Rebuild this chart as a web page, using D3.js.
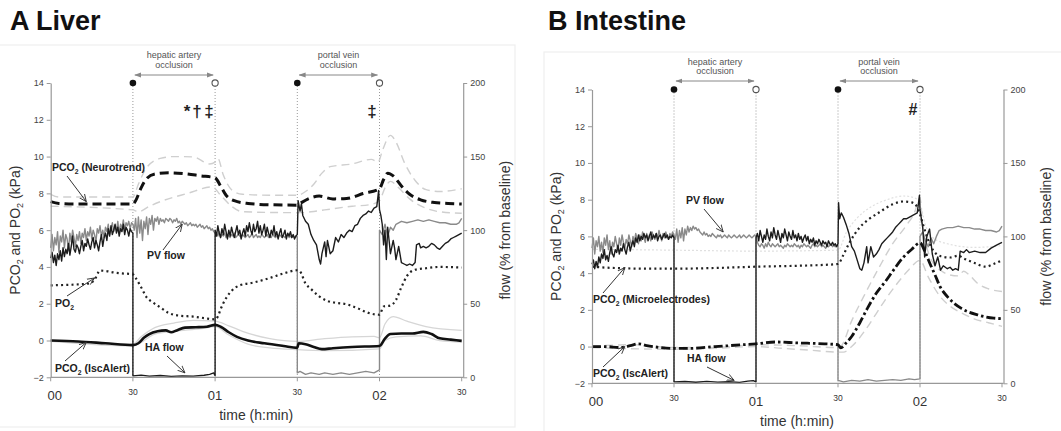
<!DOCTYPE html>
<html><head><meta charset="utf-8">
<script src="https://cdn.jsdelivr.net/npm/d3@7"></script>
<style>
body{margin:0;background:#fff;}
svg{display:block;font-family:"Liberation Sans",Arial,Helvetica,sans-serif;}
</style></head><body>
<svg id="c" width="1061" height="431"></svg>
<script>
// ---------- shared ticks ----------
const timeTicks = [0, 30, 60, 90, 120, 150];
const timeLabels = ["00", "30", "01", "30", "02", "30"];
const kpaTicks = [-2, 0, 2, 4, 6, 8, 10, 12, 14];
const flowTicks = [0, 50, 100, 150, 200];
const occlusions = [
  {start: 30, end: 60, lines: ["hepatic artery", "occlusion"]},
  {start: 90, end: 120, lines: ["portal vein", "occlusion"]}
];
// readings every half minute, starting at t0
const seqH = (t0, vals) => vals.map((v, i) => [t0 + i * 0.5, v]);

// ---------- A Liver (time min, kPa or % flow) ----------
const liverNeuroMean = [[0,7.55],[3,7.45],[10,7.42],[20,7.42],[30,7.42],[31,7.6],[33,8.3],[35,8.8],[38,9.05],[43,9.12],[50,9.05],[55,8.95],[59,8.88],[60,8.85],[62,8.4],[64,7.9],[67,7.6],[72,7.45],[80,7.38],[90,7.36],[91,7.45],[94,7.7],[98,7.85],[103,7.7],[108,7.72],[114,7.99],[120,8.25],[121.5,8.75],[123,9.1],[125,8.95],[128,8.4],[131,7.95],[135,7.65],[140,7.5],[145,7.45],[150,7.42]];
const liverNeuroUpper = [[0,7.95],[3,7.8],[30,7.8],[32,8.5],[35,9.4],[40,9.9],[45,10.0],[52,9.98],[58,9.6],[60,9.7],[61,9.9],[63,9.0],[66,8.2],[70,7.95],[80,7.9],[90,7.9],[93,8.1],[96,8.5],[99,9.1],[102,9.45],[110,9.6],[117,9.85],[119.5,9.7],[121,10.3],[124,11.15],[126,10.8],[129,9.7],[133,8.7],[137,8.2],[142,8.1],[150,8.25]];
const liverNeuroLower = [[0,7.3],[30,7.1],[32,7.0],[36,7.3],[40,7.55],[50,8.0],[59,8.35],[62,7.9],[66,7.3],[70,7.0],[90,6.95],[95,7.0],[100,7.1],[110,7.3],[117,7.4],[120,7.6],[122,8.3],[124,8.65],[127,8.3],[131,7.7],[136,7.25],[142,7.0],[150,6.92]];
const liverPO2 = [[0,3.0],[5,3.02],[10,3.05],[14,3.1],[16,3.3],[18,3.8],[20,3.78],[23,3.7],[26,3.65],[30,3.6],[31,3.4],[33,2.9],[35,2.35],[37,2.1],[40,1.8],[43,1.5],[47,1.35],[52,1.3],[56,1.22],[60,1.15],[61,1.3],[62,1.7],[64,2.3],[66,2.7],[69,3.0],[74,3.15],[80,3.4],[85,3.65],[90,3.82],[91,3.75],[93,3.1],[95,2.8],[98,2.4],[101,2.15],[104,2.05],[108,1.97],[112,1.75],[116,1.5],[120,1.4],[121.5,1.85],[124,1.9],[126,2.2],[128,2.9],[130,3.5],[133,3.85],[137,3.93],[142,4.0],[150,3.97]];
const liverIscMean = [[0,0],[10,-0.05],[20,-0.15],[30,-0.25],[32,-0.15],[34,0.15],[36,0.35],[39,0.5],[42,0.55],[44,0.45],[46,0.55],[49,0.7],[53,0.72],[57,0.75],[60,0.85],[62,0.75],[65,0.45],[68,0.2],[72,0.0],[78,-0.15],[85,-0.3],[90,-0.4],[90.5,-0.15],[93,-0.2],[96,-0.35],[99,-0.47],[103,-0.42],[110,-0.35],[120,-0.3],[122,0.1],[124,0.35],[128,0.38],[132,0.38],[136,0.47],[139,0.35],[142,0.12],[146,0.05],[150,-0.02]];
const liverIscUpper = [[0,0.02],[30,-0.2],[33,0.2],[38,0.7],[45,0.95],[52,1.1],[60,1.05],[65,0.8],[70,0.5],[80,0.1],[90,-0.05],[100,0.1],[110,0.2],[118,0.22],[120,0.15],[122,0.9],[125,1.3],[130,1.05],[137,0.75],[150,0.55]];
const liverIscLower = [[0,-0.05],[30,-0.3],[33,-0.1],[38,0.35],[45,0.5],[55,0.65],[60,0.75],[65,0.3],[72,-0.2],[80,-0.4],[90,-0.5],[100,-0.55],[120,-0.45],[122,0.0],[126,0.2],[135,0.25],[142,0.0],[150,-0.08]];
const liverHAflow = [
  ...seqH(0, [81,85,78,83,76,84,80,86,79,88,82,87,84,91,83,89,96,87,85,90,88,84,89,93,86,91,89,94,90,87,92,95,88,93,90,86,92,97,89,95,98,93,101,96,103,97,100,104,98,102,96,101,99,104,97,102,100,96,101,99,98]),
  [30,1],[33,1.5],[36,0.8],[40,1.2],[44,0.6],[48,1.0],[52,0.8],[56,1.4],[58,2.0],[59.5,3.0],[60,1.0],
  ...seqH(60, [100,96,103,98,95,101,97,104,99,94,100,96,102,98,95,99,103,97,100,94,98,101,96,103,99,105,100,97,104,99,101,106,98,103,97,100,104,96,102,98,95,100,97,103,96,99,94,98,101,95,97,100,94,98,96,99,95,97,94,96,97]),
  [90.3,120],[91,113],[91.5,118],[92,110],[93,106],[94,104],[95,97],[96,93],[97,90],[98,80],[98.5,77],[99,84],[100,92],[100.5,82],[101,93],[102,84],[103,86],[104,95],[105,92],[106,97],[107,95],[108,98],[109,100],[110,99],[111,103],[112,104],[113,108],[114,110],[115,111],[116,113],[117,112],[118,115],[119,116],[119.7,127],[120,114],
  [120.5,110],[121,104],[121.5,90],[122,100],[122.5,80],[123,102],[124,84],[125,93],[125.5,88],[126,80],[127,89],[128,78],[129,77],[130,76],[131,77],[132,76],[133,78],[133.5,90],[134.5,91],[135,88],[136,89],[137,88],[138,89],[139,91],[140,90],[141,88],[142,87],[143,89],[144,91],[145,92],[146,94],[147,95],[148,96],[149,97],[150,98]
];
const liverPVflow = [
  ...seqH(0, [88,97,86,95,90,99,85,96,92,100,88,97,94,86,98,92,100,95,89,97,93,99,91,98,95,101,93,99,96,102,94,100,97,92,101,98,103,96,100,95,102,99,104,97,101,105,99,103,100,106,98,104,101,107,100,105,103,106,101,105,104]),
  ...seqH(30.5, [100,108,95,109,98,107,93,106,101,109,97,108,104,110,100,108,106,109,104,108,106,107,105,108,107,106,108,107,105,107,106,108,105,106,104,106,105,104,105,103,104,105,103,104,103,104,102,103,104,102,103,101,102,103,101,102,100,101,99,98]),
  ...seqH(60.5, [98,96,99,95,97,96,98,95,97,96,95,97,96,98,95,96,97,96,95,97,96,95,96,97,95,96,98,95,96,97,95,96,95,97,96,95,96,97,95,96,95,97,96,95,96,95,97,96,95,96,95,96,97,95,96,95,96,95,96,95]),
  [90,3],[91,4],[93,2],[95,3],[98,2],[100,3],[103,2],[106,3],[109,2],[112,3],[115,4],[118,3],[120,5],
  [120,100],[121,97],[122,104],[123,96],[124,102],[125,100],[126,104],[127,105],[128,106],[130,105],[132,106],[134,107],[136,106],[138,107],[140,106],[142,105],[144,105],[146,104],[148,104],[149,105],[150,108]
];

// ---------- B Intestine ----------
const intMicro = [[0,4.35],[5,4.3],[10,4.27],[20,4.24],[30,4.24],[45,4.28],[60,4.35],[75,4.4],[85,4.45],[90,4.5],[92,5.0],[94,5.6],[96,6.1],[98,6.5],[101,6.9],[105,7.3],[110,7.75],[114,7.9],[117,7.85],[119,7.6],[120,7.2],[121,6.7],[123,5.8],[125,5.2],[128,4.9],[131,4.85],[134,4.95],[136,4.8],[140,4.55],[144,4.35],[147,4.5],[150,4.7]];
const intMicroUpper = [[0,5.3],[30,5.25],[60,5.2],[90,5.25],[93,6.2],[97,7.0],[102,7.6],[108,8.0],[114,8.2],[118,8.1],[120,7.8],[122,6.6],[125,5.9],[130,5.6],[140,5.4],[150,5.5]];
const intIscMean = [[0,0],[5,0],[10,-0.05],[14,0.05],[17,0.15],[20,0.05],[25,-0.05],[30,-0.1],[35,-0.1],[45,0.0],[55,0.1],[60,0.15],[67,0.25],[75,0.2],[85,0.15],[90,0.1],[91,-0.07],[93,0.2],[95,0.55],[98,1.3],[101,2.15],[104,2.9],[107.6,3.6],[110,4.1],[113.8,4.85],[117,5.3],[120,5.65],[122,5.1],[123.7,4.5],[125.5,3.9],[127.4,3.25],[130,2.72],[135,2.09],[141,1.73],[147,1.55],[150,1.52]];
const intIscUpper = [[0,0.02],[15,0.1],[30,-0.05],[45,-0.05],[60,0.1],[75,0.05],[90,-0.05],[91,0.0],[95,1.4],[100,2.9],[105,4.3],[110,5.6],[115,6.6],[118,7.3],[120,8.1],[121,6.5],[122.5,5.4],[125,4.5],[128,4.1],[131,3.9],[134,3.85],[136,4.1],[138,3.9],[141,3.45],[145,3.15],[150,3.0]];
const intIscLower = [[0,-0.05],[30,-0.15],[45,-0.1],[60,0.0],[70,-0.1],[80,-0.2],[90,-0.3],[92,-0.3],[95,0.0],[100,0.9],[104,1.8],[108,2.7],[112,3.5],[116,4.2],[120,4.7],[123,3.8],[127,2.8],[131,2.2],[135,1.85],[140,1.5],[145,1.3],[150,1.1]];
const intHAflow = [
  ...seqH(0, [81,84,78,83,79,86,82,88,85,91,84,87,83,89,93,88,86,91,89,94,88,92,90,95,91,88,93,96,90,94,97,93,99,96,101,97,100,98,102,99,101,97,100,103,98,101,99,102,97,100,101,98,100,102,99,101,98,100,99,101,99]),
  [30,1],[34,1.2],[38,0.7],[42,1.3],[46,0.8],[50,1.1],[54,0.6],[57,1.5],[59,1.8],[60,1],
  ...seqH(60, [99,102,97,104,100,96,101,98,105,100,97,103,99,106,101,98,104,100,96,102,99,105,101,97,103,100,98,104,99,101,97,102,98,100,96,99,101,97,100,95,98,96,99,94,97,95,98,96,94,97,95,96,93,97,95,94,96,94,95,93,95]),
  [90.2,123],[90.6,112],[91.2,116],[92,113],[93,108],[94,102],[95,93],[96,90],[97,84],[98,78],[98.7,77],[99.5,82],[100.5,93],[101,82],[102,93],[103,86],[104,88],[105,91],[106,95],[107,97],[108,99],[109,101],[110,103],[111,106],[112,108],[113,110],[114,112],[115,112],[116,113],[117,114],[118,115],[119,116],[119.8,128],[120,118],
  [121,106],[121.7,86],[122.5,100],[123.5,105],[124.5,88],[125.5,80],[126.5,86],[127.5,77],[128.5,80],[130,78],[131,79],[132,77],[133,78],[134,77],[134.7,90],[136,89],[137,91],[138,89],[140,90],[142,89],[144,89],[146,92],[148,94],[150,96]
];
const intPVflow = [
  ...seqH(0, [92,99,88,97,93,100,90,96,89,99,94,101,91,97,88,96,93,100,95,90,99,94,101,96,92,98,95,101,97,93,100,96,102,98,95,101,97,103,99,96,102,98,101,97,103,100,98,102,99,104,100,97,102,99,103,100,98,102,100,103,101]),
  ...seqH(30.5, [98,105,96,104,99,106,97,105,101,107,103,106,104,107,105,106,104,105,103,102,101,103,101,102,100,101,100,102,101,100,99,101,100,101,99,100,101,100,99,101,100,99,100,101,100,99,100,101,99,100,101,100,99,100,101,100,99,100,101,100]),
  ...seqH(60.5, [96,94,93,95,94,92,95,93,96,94,93,95,94,93,94,95,93,94,93,92,94,93,95,94,93,94,93,95,94,93,94,92,94,93,95,94,93,94,93,92,94,95,93,94,93,94,95,93,94,93,92,94,93,94,95,93,94,93,94,94]),
  [90,2],[92,1],[95,2],[98,1.5],[101,2.5],[104,1.5],[107,2],[110,2.5],[113,2],[116,3],[118,2.5],[120,3],
  [120,100],[121,103],[122,97],[123,93],[124,99],[125,95],[126,100],[127,104],[128,105],[130,106],[132,106],[134,107],[136,106],[138,106],[140,105],[142,105],[144,104],[146,104],[148,103],[149,104],[150,107]
];

// ---------- drawing ----------
const svg = d3.select("#c");
const defs = svg.append("defs");
defs.append("marker").attr("id","ah").attr("viewBox","0 -5 10 10").attr("refX",9).attr("refY",0)
  .attr("markerUnits","userSpaceOnUse").attr("markerWidth",8).attr("markerHeight",8).attr("orient","auto")
  .append("path").attr("d","M0,-4L9,0L0,4").attr("fill","none").attr("stroke","#333").attr("stroke-width",1.1);
defs.append("marker").attr("id","oh").attr("viewBox","0 -5 10 10").attr("refX",9).attr("refY",0)
  .attr("markerUnits","userSpaceOnUse").attr("markerWidth",7).attr("markerHeight",7).attr("orient","auto-start-reverse")
  .append("path").attr("d","M0,-3.5L10,0L0,3.5Z").attr("fill","#888");

function subText(g, x, y, parts, size) {
  const t = g.append("text").attr("x", x).attr("y", y).attr("font-size", size).attr("font-weight", "bold").attr("fill", "#222");
  parts.forEach(p => {
    if (p.sub) t.append("tspan").attr("dy", 3).attr("font-size", size * 0.65).text(p.s);
    else t.append("tspan").attr("dy", p.after ? -3 : 0).text(p.s);
  });
  return t;
}
function arrow(g, x1, y1, x2, y2) {
  g.append("line").attr("x1",x1).attr("y1",y1).attr("x2",x2).attr("y2",y2)
    .attr("stroke","#333").attr("stroke-width",1).attr("marker-end","url(#ah)");
}

function drawPanel(cfg) {
  const g = svg.append("g");
  const x = d3.scaleLinear().domain([0,150]).range([cfg.xL, cfg.xR]);
  const y = d3.scaleLinear().domain([-2,14]).range([cfg.yB, cfg.yT]);
  const yr = d3.scaleLinear().domain([0,200]).range([cfg.yB, cfg.yT]);
  const axR = cfg.xR + 1.5;

  g.append("rect").attr("x",cfg.frame[0]).attr("y",cfg.frame[1]).attr("width",cfg.frame[2]).attr("height",cfg.frame[3])
    .attr("fill","none").attr("stroke","#efefef").attr("stroke-width",1.2);

  g.append("text").attr("x",cfg.titleX).attr("y",30).attr("font-size",27).attr("font-weight","bold")
    .attr("fill","#111").text(cfg.title);

  occlusions.forEach(o => {
    [o.start, o.end].forEach(t => {
      g.append("line").attr("x1",x(t)).attr("x2",x(t)).attr("y1",cfg.yT).attr("y2",cfg.yB)
        .attr("stroke","#999").attr("stroke-width",1).attr("stroke-dasharray","1,2");
    });
    g.append("circle").attr("cx",x(o.start)).attr("cy",cfg.yT).attr("r",3.3).attr("fill","#111");
    g.append("circle").attr("cx",x(o.end)).attr("cy",cfg.yT).attr("r",3.1).attr("fill","#fff").attr("stroke","#555").attr("stroke-width",1.1);
    g.append("line").attr("x1",x(o.start)+2).attr("x2",x(o.end)-2).attr("y1",cfg.arrowY).attr("y2",cfg.arrowY)
      .attr("stroke","#888").attr("stroke-width",1).attr("marker-start","url(#oh)").attr("marker-end","url(#oh)");
    o.lines.forEach((s,i) => {
      g.append("text").attr("x",(x(o.start)+x(o.end))/2).attr("y",cfg.textY + i*9.5)
        .attr("text-anchor","middle").attr("font-size",9).attr("fill","#555").text(s);
    });
  });

  const lk = d3.line().x(d => x(d[0])).y(d => y(d[1])).curve(d3.curveMonotoneX);
  const lf = d3.line().x(d => x(d[0])).y(d => yr(d[1]));
  const path = (data, gen, stroke, w, dash) => {
    const p = g.append("path").attr("d", gen(data)).attr("fill","none").attr("stroke",stroke)
      .attr("stroke-width",w).attr("stroke-linejoin","round");
    if (dash) p.attr("stroke-dasharray", dash);
    return p;
  };
  cfg.draw(path, lk, lf);

  const la = g.append("g").attr("transform",`translate(${cfg.xL},0)`)
    .call(d3.axisLeft(y).tickValues(kpaTicks).tickSize(4).tickSizeOuter(0).tickPadding(3));
  const ra = g.append("g").attr("transform",`translate(${axR},0)`)
    .call(d3.axisRight(yr).tickValues(flowTicks).tickSize(4).tickSizeOuter(0).tickPadding(3));
  [la, ra].forEach(a => {
    a.select(".domain").attr("stroke","#999").attr("stroke-width",1.2);
    a.selectAll(".tick line").attr("stroke","#999");
    a.selectAll(".tick text").attr("font-size",9).attr("fill","#444").attr("font-family","Liberation Sans, Arial, sans-serif");
  });
  g.append("line").attr("x1",cfg.xL).attr("x2",axR).attr("y1",cfg.yB).attr("y2",cfg.yB)
    .attr("stroke","#999").attr("stroke-width",1.2);
  timeTicks.forEach((t,i) => {
    g.append("line").attr("x1",x(t)).attr("x2",x(t)).attr("y1",cfg.yB).attr("y2",cfg.yB+4).attr("stroke","#999");
    const big = i % 2 === 0;
    g.append("text").attr("x",x(t)+(i===0?4:0)).attr("y",cfg.yB + (big ? 23 : 18))
      .attr("text-anchor","middle").attr("font-size", big ? 13 : 8.5).attr("fill","#333").text(timeLabels[i]);
  });
  g.append("text").attr("x",(cfg.xL+cfg.xR)/2).attr("y",cfg.yB+43).attr("text-anchor","middle")
    .attr("font-size",14).attr("fill","#333").text("time (h:min)");

  const lt = g.append("text").attr("transform",`translate(${cfg.xL-31},${(cfg.yT+cfg.yB)/2}) rotate(-90)`)
    .attr("text-anchor","middle").attr("font-size",14).attr("fill","#333");
  lt.append("tspan").text("PCO");
  lt.append("tspan").attr("dy",3).attr("font-size",9).text("2");
  lt.append("tspan").attr("dy",-3).text(" and PO");
  lt.append("tspan").attr("dy",3).attr("font-size",9).text("2");
  lt.append("tspan").attr("dy",-3).text(" (kPa)");
  g.append("text").attr("transform",`translate(${axR+47},${(cfg.yT+cfg.yB)/2}) rotate(-90)`)
    .attr("text-anchor","middle").attr("font-size",14).attr("fill","#333").text("flow (% from baseline)");

  cfg.labels(g, x, y, yr);
}

const GRAY_SD = "#cfcfcf";
drawPanel({
  title: "A Liver", titleX: 10, xL: 50.7, xR: 461.7, yT: 83, yB: 377.3,
  arrowY: 75, textY: 58, frame: [-2, 45, 517, 382],
  draw: (path, lk, lf) => {
    path(liverIscUpper, lk, "#d6d6d6", 1.3);
    path(liverIscLower, lk, "#d6d6d6", 1.3);
    path(liverNeuroUpper, lk, GRAY_SD, 1.4, "8,5");
    path(liverNeuroLower, lk, GRAY_SD, 1.4, "8,5");
    path(liverPVflow, lf, "#8a8a8a", 1.4);
    path(liverHAflow, lf, "#1c1c1c", 1.4);
    path(liverNeuroMean, lk, "#111", 3, "9,5");
    path(liverPO2, lk, "#222", 2.2, "2,3.2");
    path(liverIscMean, lk, "#111", 2.6);
  },
  labels: (g, x, y, yr) => {
    subText(g, 52, 171, [{s:"PCO"},{s:"2",sub:true},{s:" (Neurotrend)",after:true}], 10.5);
    arrow(g, 67, 176, x(13), y(7.55));
    subText(g, 147, 259, [{s:"PV flow"}], 10.5);
    arrow(g, 163, 250, x(48), yr(104));
    subText(g, 55, 307, [{s:"PO"},{s:"2",sub:true}], 10.5);
    arrow(g, 67, 296, x(16), y(3.4));
    subText(g, 55, 372, [{s:"PCO"},{s:"2",sub:true},{s:" (IscAlert)",after:true}], 10.5);
    arrow(g, 65, 361, x(13), y(-0.1));
    subText(g, 145, 351, [{s:"HA flow"}], 10.5);
    arrow(g, 167, 356, x(49), yr(3));
    [["*",187],["\u2020",197],["\u2021",209]].forEach(([s,xx]) =>
      g.append("text").attr("x",xx).attr("y",117).attr("text-anchor","middle").attr("font-size",17).attr("font-weight","bold").attr("fill","#222").text(s));
    g.append("text").attr("x",372).attr("y",117).attr("text-anchor","middle").attr("font-size",17).attr("font-weight","bold").attr("fill","#222").text("\u2021");
  }
});

drawPanel({
  title: "B Intestine", titleX: 548, xL: 592, xR: 1002, yT: 89.5, yB: 383.3,
  arrowY: 81, textY: 64.5, frame: [544, 52, 530, 385],
  draw: (path, lk, lf) => {
    path(intMicroUpper, lk, "#e0e0e0", 1.2, "2,2");
    path(intIscUpper, lk, GRAY_SD, 1.4, "8,5");
    path(intIscLower, lk, GRAY_SD, 1.4, "8,5");
    path(intPVflow, lf, "#8a8a8a", 1.4);
    path(intHAflow, lf, "#1c1c1c", 1.4);
    path(intMicro, lk, "#222", 2.2, "2,3.2");
    path(intIscMean, lk, "#111", 2.8, "9,3,2.5,3");
  },
  labels: (g, x, y, yr) => {
    subText(g, 686, 204, [{s:"PV flow"}], 10.5);
    arrow(g, 704, 209, x(48), yr(103));
    subText(g, 593, 303, [{s:"PCO"},{s:"2",sub:true},{s:" (Microelectrodes)",after:true}], 10.5);
    arrow(g, 603, 293, x(12), y(4.3));
    subText(g, 593, 377, [{s:"PCO"},{s:"2",sub:true},{s:" (IscAlert)",after:true}], 10.5);
    arrow(g, 603, 367, x(12), y(0.0));
    subText(g, 687, 362, [{s:"HA flow"}], 10.5);
    arrow(g, 707, 367, x(52), yr(2));
    g.append("text").attr("x",913).attr("y",115).attr("text-anchor","middle").attr("font-size",16).attr("font-weight","bold").attr("fill","#222").text("#");
  }
});
</script></body></html>
